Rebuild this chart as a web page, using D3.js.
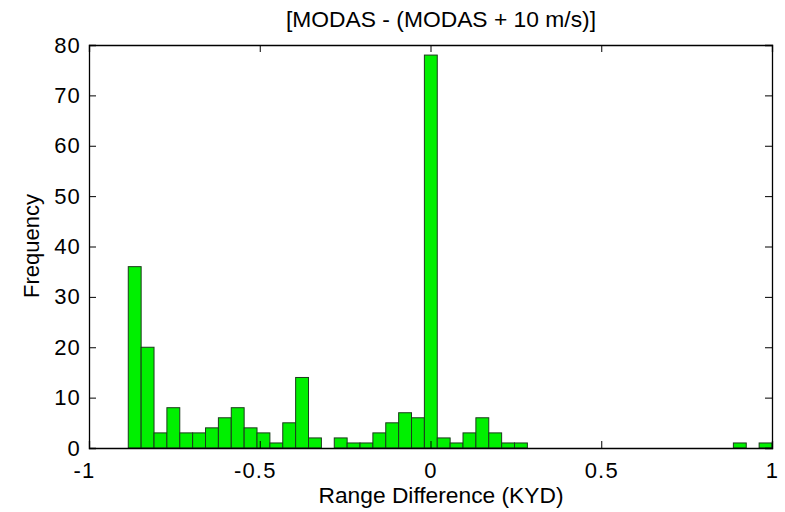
<!DOCTYPE html>
<html><head><meta charset="utf-8">
<script src="https://cdn.jsdelivr.net/npm/d3@7"></script>
<style>body{margin:0;background:#fff}svg{display:block}text{font-family:"Liberation Sans",Arial,sans-serif;fill:#000}</style>
</head><body><svg id="c" width="785" height="512"></svg>
<script>
const titleText = "[MODAS - (MODAS + 10 m/s)]";
const xLabel = "Range Difference (KYD)";
const yLabel = "Frequency";
const histRange = [-0.885, 1.0];
const counts = [36,20,3,8,3,3,4,6,8,4,3,1,5,14,2,0,2,1,1,3,5,7,6,78,2,1,3,6,3,1,1,
  0,0,0,0,0,0,0,0,0,0,0,0,0,0,0,0,1,0,1];
const xTicks = [-1,-0.5,0,0.5,1];
const yTicks = [0,10,20,30,40,50,60,70,80];

const svg = d3.select("#c");
const m = {l:89, r:772, t:45, b:448};
const x = d3.scaleLinear().domain([-1,1]).range([m.l,m.r]);
const y = d3.scaleLinear().domain([0,80]).range([m.b,m.t]);
const nb = counts.length, bw = (histRange[1]-histRange[0])/nb;
const bins = counts.map((c,i)=>({x0:histRange[0]+i*bw, x1:histRange[0]+(i+1)*bw, c}));

svg.append("g").selectAll("rect").data(bins.filter(d=>d.c>0)).join("rect")
  .attr("x",d=>x(d.x0)).attr("width",d=>x(d.x1)-x(d.x0))
  .attr("y",d=>y(d.c)).attr("height",d=>y(0)-y(d.c))
  .attr("fill","#00f000").attr("stroke","#1c3a1c").attr("stroke-width",1);

const fs = "22px";
const ax = svg.append("g").attr("transform",`translate(0,${m.b})`)
  .call(d3.axisBottom(x).tickValues(xTicks).tickSize(-7).tickFormat(d=>d3.format("")(d).replace("−","-")));
const axT = svg.append("g").attr("transform",`translate(0,${m.t})`)
  .call(d3.axisTop(x).tickValues(xTicks).tickSize(-7).tickFormat(""));
const ay = svg.append("g").attr("transform",`translate(${m.l},0)`)
  .call(d3.axisLeft(y).tickValues(yTicks).tickSize(-7).tickPadding(8));
const ayR = svg.append("g").attr("transform",`translate(${m.r},0)`)
  .call(d3.axisRight(y).tickValues(yTicks).tickSize(-7).tickFormat(""));
[ax,axT,ay,ayR].forEach(g=>{
  g.select(".domain").attr("stroke","#000").attr("stroke-width",1.3);
  g.selectAll(".tick line").attr("stroke","#000");
  g.selectAll("text").style("font-size",fs).style("letter-spacing","1.2px")
    .attr("font-family","Liberation Sans, Arial, sans-serif");
});
ax.selectAll(".tick text").attr("y",30).attr("dy",0)
  .attr("dx",d=>d<0?-5:0);

svg.append("text").attr("x",441).attr("y",27).attr("text-anchor","middle")
  .style("font-size","22px").attr("textLength",310).attr("lengthAdjust","spacingAndGlyphs")
  .text(titleText);
svg.append("text").attr("x",441).attr("y",503).attr("text-anchor","middle")
  .style("font-size","22px").attr("textLength",245).attr("lengthAdjust","spacingAndGlyphs")
  .text(xLabel);
svg.append("text").attr("transform",`translate(39,246) rotate(-90)`).attr("text-anchor","middle")
  .style("font-size","22px").text(yLabel);
</script></body></html>
